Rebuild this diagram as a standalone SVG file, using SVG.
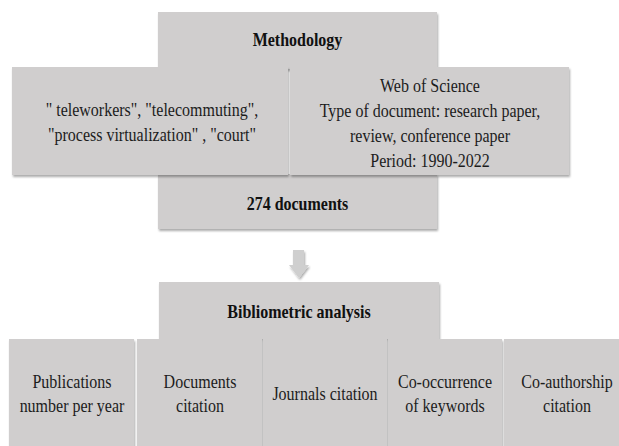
<svg xmlns="http://www.w3.org/2000/svg" width="619" height="446" viewBox="0 0 619 446">
  <defs>
    <filter id="shadow" x="-10%" y="-10%" width="120%" height="130%">
      <feDropShadow dx="1" dy="2" stdDeviation="1.3" flood-color="#000" flood-opacity="0.33"/>
    </filter>
  </defs>
  <style>
    .box { fill: #d0cece; filter: url(#shadow); }
    /* narrow, tall serif lettering: 16px wide, stretched 1.2x vertically */
    .t { font-family: "Liberation Serif", "Times New Roman", serif; font-size: 16px; fill: #1c1c1c; text-anchor: middle; }
    .b { font-weight: bold; fill: #111; }
    .arrow { fill: #cfcfcf; filter: url(#shadow); }
  </style>
  <rect width="619" height="446" fill="#ffffff"/>

  <g id="methodology">
    <rect class="box" x="158" y="12" width="279" height="57"/>
    <text class="t b" transform="translate(297.5,46) scale(1,1.2)">Methodology</text>
  </g>

  <g id="documents">
    <rect class="box" x="158" y="174" width="279" height="55"/>
    <text class="t b" transform="translate(297.5,210) scale(1,1.2)">274 documents</text>
  </g>

  <g id="keywords">
    <rect class="box" x="12" y="67" width="276" height="108"/>
    <text class="t" transform="translate(152,116) scale(1,1.2)">" teleworkers", "telecommuting",</text>
    <text class="t" transform="translate(152,141) scale(1,1.2)">"process virtualization" , "court"</text>
  </g>

  <g id="sources">
    <rect class="box" x="290" y="67" width="279" height="108"/>
    <text class="t" transform="translate(430,92) scale(1,1.2)">Web of Science</text>
    <text class="t" transform="translate(430,117) scale(1,1.2)">Type of document: research paper,</text>
    <text class="t" transform="translate(430,142) scale(1,1.2)">review, conference paper</text>
    <text class="t" transform="translate(430,167) scale(1,1.2)">Period: 1990-2022</text>
  </g>

  <g id="connectors">
    <polygon class="arrow" points="293,250 304,250 304,265 309,265 299,278 289,265 293,265"/>
  </g>

  <g id="bibliometric">
    <rect class="box" x="159" y="282" width="280" height="57"/>
    <text class="t b" transform="translate(299,318) scale(1,1.2)">Bibliometric analysis</text>
  </g>

  <g id="publications">
    <rect class="box" x="9" y="339" width="125" height="112"/>
    <text class="t" transform="translate(72,388) scale(1,1.2)">Publications</text>
    <text class="t" transform="translate(72,412) scale(1,1.2)">number per year</text>
  </g>

  <g id="documents-citation">
    <rect class="box" x="137" y="339" width="125" height="112"/>
    <text class="t" transform="translate(200,388) scale(1,1.2)">Documents</text>
    <text class="t" transform="translate(200,412) scale(1,1.2)">citation</text>
  </g>

  <g id="journals-citation">
    <rect class="box" x="263" y="339" width="124" height="112"/>
    <text class="t" transform="translate(325,400) scale(1,1.2)">Journals citation</text>
  </g>

  <g id="co-occurrence">
    <rect class="box" x="388" y="339" width="114" height="112"/>
    <text class="t" transform="translate(445,388) scale(1,1.2)">Co-occurrence</text>
    <text class="t" transform="translate(445,412) scale(1,1.2)">of keywords</text>
  </g>

  <g id="co-authorship">
    <rect class="box" x="504" y="339" width="126" height="112"/>
    <text class="t" transform="translate(567,388) scale(1,1.2)">Co-authorship</text>
    <text class="t" transform="translate(567,412) scale(1,1.2)">citation</text>
  </g>
</svg>
